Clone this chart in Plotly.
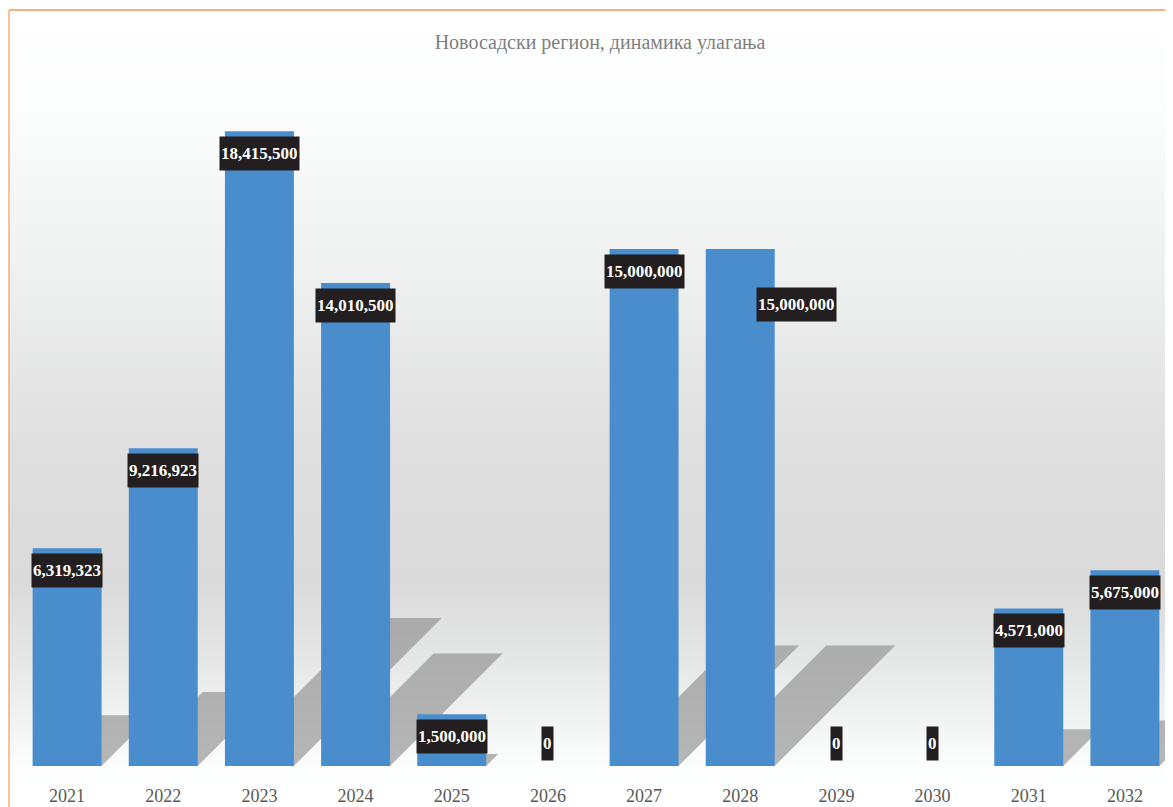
import base64
import plotly.graph_objects as go

# ---- data ----
years = ["2021", "2022", "2023", "2024", "2025", "2026",
         "2027", "2028", "2029", "2030", "2031", "2032"]
investment = [6319323, 9216923, 18415500, 14010500, 1500000, 0,
              15000000, 15000000, 0, 0, 4571000, 5675000]
title_text = "Новосадски регион, динамика улагања"

# ---- layout constants (window px; page body adds an 8px offset) ----
OFF = 8
WIN_W, WIN_H = 1173, 807
W, H = WIN_W - OFF, WIN_H - OFF
PLOT_L, PLOT_R, PLOT_T, PLOT_B = 19, 1173, 80, 766     # window px
ML, MR = PLOT_L - OFF, W - (PLOT_R - OFF)
MT, MB = PLOT_T - OFF, H - (PLOT_B - OFF)
PW, PH = W - ML - MR, H - MT - MB
YMAX = 19.9e6
BARGAP = 0.283
KX = PW / len(years)          # px per category
KY = PH / YMAX                # px per unit value
SHADOW_FRAC = 0.233

# special label offsets (px): index -> (xshift, extra yshift)
label_offsets = {7: (56, -33)}


def px_to_paper_x(px):
    return (px - PLOT_L) / PW


def px_to_paper_y(py):
    return (PLOT_B - py) / PH


# background gradient as svg image
svg = f"""<svg xmlns='http://www.w3.org/2000/svg' width='{W}' height='{H}' preserveAspectRatio='none'>
<defs><linearGradient id='g' x1='0' y1='0' x2='0' y2='1'>
<stop offset='0' stop-color='#ffffff'/>
<stop offset='0.12' stop-color='#fcfdfd'/>
<stop offset='0.33' stop-color='#eff0f0'/>
<stop offset='0.55' stop-color='#dfdfdf'/>
<stop offset='0.72' stop-color='#dadada'/>
<stop offset='0.82' stop-color='#e6e7e7'/>
<stop offset='0.90' stop-color='#f3f4f4'/>
<stop offset='0.955' stop-color='#fdfefe'/>
<stop offset='1' stop-color='#ffffff'/>
</linearGradient></defs>
<rect x='0' y='0' width='{W}' height='{H}' fill='url(#g)'/>
</svg>"""
svg_uri = "data:image/svg+xml;base64," + base64.b64encode(svg.encode()).decode()

fig = go.Figure()
fig.add_trace(go.Bar(
    x=years, y=investment,
    marker=dict(color="#4a8dcd", line=dict(width=0)),
    hoverinfo="x+y",
))

shapes = []
half = (1 - BARGAP) / 2
for i, v in enumerate(investment):
    if v <= 0:
        continue
    h_px = SHADOW_FRAC * v * KY
    dx = h_px / KX
    dy = h_px / KY
    x0, x1 = i - half, i + half
    shapes.append(dict(
        type="path", xref="x", yref="y", layer="below",
        path=f"M {x0},0 L {x1},0 L {x1 + dx},{dy} L {x0 + dx},{dy} Z",
        fillcolor="rgba(135,135,135,0.6)", line=dict(width=0),
    ))

# orange frame lines
shapes.append(dict(type="line", xref="paper", yref="paper",
                   x0=px_to_paper_x(9), x1=px_to_paper_x(WIN_W + 2),
                   y0=px_to_paper_y(10), y1=px_to_paper_y(10),
                   line=dict(color="#f4b183", width=2)))
shapes.append(dict(type="line", xref="paper", yref="paper",
                   x0=px_to_paper_x(9), x1=px_to_paper_x(9),
                   y0=px_to_paper_y(10), y1=px_to_paper_y(WIN_H + 2),
                   line=dict(color="#f4b183", width=1.5)))

annotations = []
for i, v in enumerate(investment):
    xs, ys = label_offsets.get(i, (0, 0))
    if v * KY < 40:
        anchor, yshift, yv = "bottom", 5, 0
    else:
        anchor, yshift, yv = "top", -5, v
    annotations.append(dict(
        x=i, y=yv, xref="x", yref="y", text=f"<b>{v:,}</b>",
        showarrow=False, yanchor=anchor, xanchor="center",
        xshift=xs, yshift=yshift + ys,
        bgcolor="#231f20", borderpad=1, height=31,
        font=dict(family="Liberation Serif", size=17, color="#ffffff"),
    ))

fig.update_layout(
    width=W, height=H,
    margin=dict(l=ML, r=MR, t=MT, b=MB),
    paper_bgcolor="#ffffff", plot_bgcolor="rgba(0,0,0,0)",
    bargap=BARGAP, showlegend=False,
    title=dict(text=title_text, x=(600 - OFF) / W, xref="container",
               xanchor="center", y=1 - (42 - OFF) / H, yanchor="middle",
               yref="container",
               font=dict(family="Liberation Serif", size=20, color="#7f7f7f")),
    xaxis=dict(type="category", showgrid=False, showline=False, zeroline=False,
               ticks="",
               tickfont=dict(family="Liberation Serif", size=18, color="#595959"),
               ticklabelstandoff=17, range=[-0.5, len(years) - 0.5]),
    yaxis=dict(visible=False, range=[0, YMAX], showgrid=False, zeroline=False),
    images=[dict(source=svg_uri, xref="paper", yref="paper",
                 x=px_to_paper_x(OFF), y=px_to_paper_y(OFF),
                 sizex=W / PW, sizey=H / PH, sizing="stretch",
                 xanchor="left", yanchor="top", layer="below")],
    shapes=shapes,
    annotations=annotations,
)

fig.write_html("out.html")
